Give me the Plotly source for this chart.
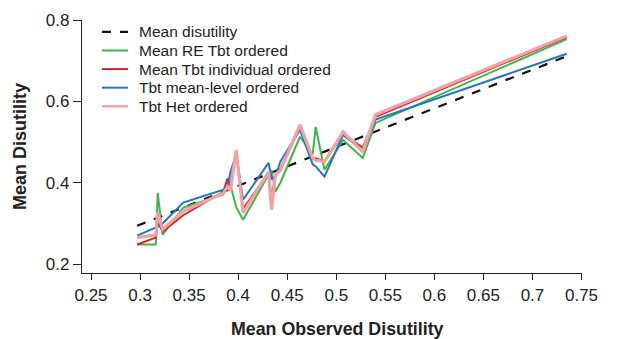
import plotly.graph_objects as go

x_obs = [0.297, 0.316, 0.318, 0.323, 0.344, 0.385, 0.389, 0.392, 0.398, 0.405, 0.431,
         0.434, 0.438, 0.443, 0.463, 0.476, 0.479, 0.488, 0.507, 0.527, 0.540, 0.735]

mean_disutility = [0.294, 0.312, 0.314, 0.319, 0.339, 0.378, 0.382, 0.385, 0.390, 0.397, 0.422,
                   0.425, 0.428, 0.433, 0.452, 0.465, 0.467, 0.476, 0.494, 0.513, 0.526, 0.711]
mean_re_tbt = [0.248, 0.248, 0.375, 0.272, 0.339, 0.371, 0.390, 0.395, 0.340, 0.309, 0.420,
               0.430, 0.378, 0.400, 0.513, 0.470, 0.537, 0.432, 0.505, 0.461, 0.547, 0.753]
mean_tbt_indiv = [0.248, 0.265, 0.302, 0.280, 0.320, 0.378, 0.410, 0.395, 0.475, 0.335, 0.425,
                  0.360, 0.420, 0.435, 0.535, 0.458, 0.460, 0.452, 0.520, 0.486, 0.562, 0.758]
tbt_mean_level = [0.270, 0.290, 0.292, 0.300, 0.351, 0.383, 0.390, 0.425, 0.470, 0.358, 0.449,
                  0.410, 0.415, 0.452, 0.530, 0.445, 0.440, 0.415, 0.518, 0.478, 0.555, 0.717]
tbt_het = [0.265, 0.272, 0.326, 0.285, 0.330, 0.375, 0.390, 0.380, 0.480, 0.326, 0.427,
           0.334, 0.420, 0.430, 0.542, 0.460, 0.455, 0.452, 0.525, 0.476, 0.567, 0.761]

series_names = ["Mean disutility", "Mean RE Tbt ordered", "Mean Tbt individual ordered",
                "Tbt mean-level ordered", "Tbt Het ordered"]
series_values = [mean_disutility, mean_re_tbt, mean_tbt_indiv, tbt_mean_level, tbt_het]

x_ticks = [0.25, 0.3, 0.35, 0.4, 0.45, 0.5, 0.55, 0.6, 0.65, 0.7, 0.75]
x_tick_text = ["0.25", "0.3", "0.35", "0.4", "0.45", "0.5", "0.55", "0.6", "0.65", "0.7", "0.75"]
y_ticks = [0.2, 0.4, 0.6, 0.8]
y_tick_text = ["0.2", "0.4", "0.6", "0.8"]

x_title = "Mean Observed Disutility"
y_title = "Mean Disutility"

# styles
colors = ["#111111", "#3db54a", "#d2232a", "#1f77c4", "#f2a2a4"]
widths = [2.2, 2, 2, 2, 3.2]
dashes = ["dash", "solid", "solid", "solid", "solid"]

fig = go.Figure()
for name, vals, c, w, d in zip(series_names, series_values, colors, widths, dashes):
    fig.add_trace(go.Scatter(x=x_obs, y=vals, mode="lines", name=name, showlegend=False,
                             line=dict(color=c, width=w, dash=d)))

# manual legend (compact row spacing as in the reference)
leg_x0, leg_x1, leg_tx = 0.040, 0.092, 0.110
leg_y0, leg_dy = 0.953, 0.0735
for i, (name, c, w, d) in enumerate(zip(series_names, colors, widths, dashes)):
    yy = leg_y0 - i * leg_dy
    fig.add_shape(type="line", xref="paper", yref="paper", x0=leg_x0, x1=leg_x1, y0=yy, y1=yy,
                  line=dict(color=c, width=min(w, 2.4), dash=d))
    fig.add_annotation(xref="paper", yref="paper", x=leg_tx, y=yy, text=name, showarrow=False,
                       xanchor="left", yanchor="middle", font=dict(size=15.5, color="#222222"))

# x-axis title (slightly right of centre, as in the reference)
fig.add_annotation(xref="paper", yref="paper", x=0.5105, y=-0.222, text="<b>" + x_title + "</b>",
                   showarrow=False, xanchor="center", yanchor="middle",
                   font=dict(size=17.8, color="#222222"))

font_family = "Liberation Sans, Arial, sans-serif"
fig.update_layout(
    width=611, height=331,
    margin=dict(l=74, r=37, t=12, b=66, autoexpand=False),
    paper_bgcolor="white", plot_bgcolor="white",
    font=dict(family=font_family, color="#222222", size=17),
    showlegend=False,
    xaxis=dict(range=[0.2408, 0.7505], tickvals=x_ticks, ticktext=x_tick_text,
               showline=True, linecolor="#222222", linewidth=1.2, ticks="outside",
               ticklen=6, tickcolor="#222222", showgrid=False, zeroline=False,
               automargin=False, tickfont=dict(size=17)),
    yaxis=dict(range=[0.178, 0.8], tickvals=y_ticks, ticktext=y_tick_text,
               showline=True, linecolor="#222222", linewidth=1.2, ticks="outside",
               ticklen=8, tickcolor="#222222", showgrid=False, zeroline=False,
               automargin=False, tickfont=dict(size=17),
               title=dict(text="<b>" + y_title + "</b>", font=dict(size=18), standoff=14)),
)

fig.write_html("out.html")
